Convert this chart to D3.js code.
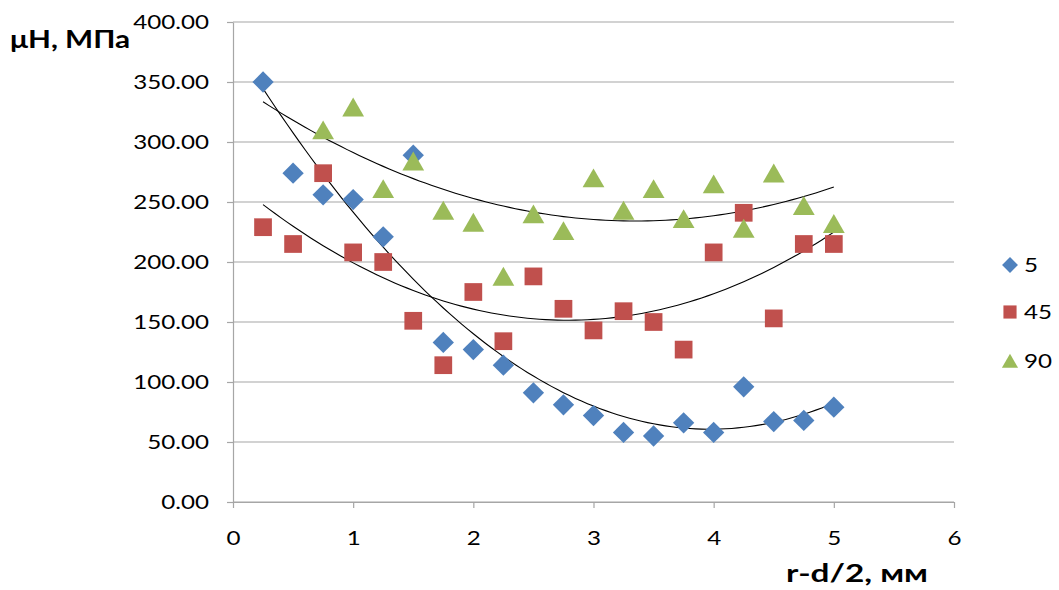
<!DOCTYPE html>
<html>
<head>
<meta charset="utf-8">
<script src="https://cdn.jsdelivr.net/npm/d3@7"></script>
<style>
  html, body { margin: 0; padding: 0; background: #fff; }
  svg { display: block; }
  text { font-family: Lato, "Open Sans", sans-serif; fill: #000; }
</style>
</head>
<body>
<svg id="chart" width="1059" height="590"></svg>
<script>
// Distance from the hole edge, mm
const xValues = [0.25, 0.5, 0.75, 1, 1.25, 1.5, 1.75, 2, 2.25, 2.5, 2.75, 3, 3.25, 3.5, 3.75, 4, 4.25, 4.5, 4.75, 5];
const xValues90 = [0.75, 1, 1.25, 1.5, 1.75, 2, 2.25, 2.5, 2.75, 3, 3.25, 3.5, 3.75, 4, 4.25, 4.5, 4.75, 5];

// Microhardness, MPa, for each series
const values5 = [350, 274, 256, 252, 221, 289, 133, 127, 114, 91, 81, 72, 58, 55, 66, 58, 96, 67, 68, 79];
const values45 = [229, 215, 274, 208, 200, 151, 114, 175, 134, 188, 161, 143, 159, 150, 127, 208, 241, 153, 215, 215];
const values90 = [310, 329, 261, 284, 243, 233, 188, 240, 226, 270, 243, 261, 236, 265, 228, 274, 247, 232];

const seriesNames = ["5", "45", "90"];
const xTicks = [0, 1, 2, 3, 4, 5, 6];
const yTicks = [0, 50, 100, 150, 200, 250, 300, 350, 400];

const series = [
  { name: seriesNames[0], xs: xValues, ys: values5, color: "#4F81BD", symbol: d3.symbolDiamond2, size: 290, dy: 0 },
  { name: seriesNames[1], xs: xValues, ys: values45, color: "#C0504D", symbol: d3.symbolSquare2, size: 400, dy: 0 },
  { name: seriesNames[2], xs: xValues90, ys: values90, color: "#9BBB59", symbol: d3.symbolTriangle2, size: 340, dy: 3 }
];

const svg = d3.select("#chart");
const SX = 1.24; // horizontal text stretch

const x = d3.scaleLinear().domain([0, 6]).range([233, 954]);
const y = d3.scaleLinear().domain([0, 400]).range([502, 22]);

// Horizontal grid
svg.append("g")
  .selectAll("line")
  .data(yTicks)
  .join("line")
  .attr("x1", x(0)).attr("x2", x(6))
  .attr("y1", d => y(d)).attr("y2", d => y(d))
  .attr("stroke", "#a6a6a6").attr("stroke-width", 1.2);

// Axes
const yAxis = svg.append("g")
  .attr("transform", `translate(${x(0)},0)`)
  .call(d3.axisLeft(y).tickValues(yTicks).tickFormat(d3.format(".2f")).tickSize(6).tickSizeOuter(0));
yAxis.select(".domain").attr("stroke", "#a6a6a6").attr("stroke-width", 1.2);
yAxis.selectAll(".tick line").attr("stroke", "#a6a6a6").attr("stroke-width", 1.2);
yAxis.selectAll(".tick text")
  .attr("font-family", "Lato").attr("font-size", 19.5).attr("fill", "#000")
  .attr("x", -24 / SX).attr("dy", "0.35em")
  .attr("transform", `scale(${SX},1)`);

const xAxis = svg.append("g")
  .attr("transform", `translate(0,${y(0)})`)
  .call(d3.axisBottom(x).tickValues(xTicks).tickFormat(d3.format("d")).tickSize(6).tickSizeOuter(0));
xAxis.select(".domain").attr("stroke", "#a6a6a6").attr("stroke-width", 1.2);
xAxis.selectAll(".tick line").attr("stroke", "#a6a6a6").attr("stroke-width", 1.2);
xAxis.selectAll(".tick text")
  .attr("font-family", "Lato").attr("font-size", 19.5).attr("fill", "#000")
  .attr("y", 43).attr("dy", 0)
  .attr("transform", `scale(${SX},1)`);

// Second-order polynomial least-squares fit
function quadFit(xs, ys) {
  let s = [0, 0, 0, 0, 0], t = [0, 0, 0];
  xs.forEach((xv, i) => {
    let p = 1;
    for (let k = 0; k < 5; k++) { s[k] += p; if (k < 3) t[k] += p * ys[i]; p *= xv; }
  });
  const A = [[s[0], s[1], s[2]], [s[1], s[2], s[3]], [s[2], s[3], s[4]]];
  const det = m => m[0][0]*(m[1][1]*m[2][2]-m[1][2]*m[2][1]) - m[0][1]*(m[1][0]*m[2][2]-m[1][2]*m[2][0]) + m[0][2]*(m[1][0]*m[2][1]-m[1][1]*m[2][0]);
  const D = det(A);
  const coef = [0, 1, 2].map(c => det(A.map((row, r) => row.map((v, j) => j === c ? t[r] : v))) / D);
  return xv => coef[0] + coef[1] * xv + coef[2] * xv * xv;
}

const line = d3.line().x(d => x(d[0])).y(d => y(d[1]));
series.forEach(s => {
  const f = quadFit(s.xs, s.ys);
  const pts = d3.range(0.25, 5.0001, 0.05).map(xv => [xv, f(xv)]);
  svg.append("path")
    .attr("d", line(pts))
    .attr("fill", "none").attr("stroke", "#000").attr("stroke-width", 1.1);
});

// Markers
series.forEach(s => {
  const sym = d3.symbol().type(s.symbol).size(s.size);
  svg.append("g")
    .selectAll("path")
    .data(s.xs.map((xv, i) => [xv, s.ys[i]]))
    .join("path")
    .attr("transform", d => `translate(${x(d[0])},${y(d[1]) + s.dy})`)
    .attr("d", sym())
    .attr("fill", s.color);
});

// Legend
const legendY = [265, 312, 361];
series.forEach((s, i) => {
  const sym = d3.symbol().type(s.symbol).size(s.size * 0.55);
  svg.append("path")
    .attr("transform", `translate(1010,${legendY[i] + s.dy * 0.7})`)
    .attr("d", sym())
    .attr("fill", s.color);
  svg.append("text")
    .attr("transform", `translate(1024,${legendY[i]}) scale(${SX},1)`)
    .attr("dy", "0.35em")
    .attr("font-size", 19.5)
    .text(s.name);
});

// Axis titles
svg.append("text")
  .attr("transform", `translate(10,48) scale(${SX},1)`)
  .attr("font-size", 24).attr("font-weight", "bold")
  .text("μH, МПа");

svg.append("text")
  .attr("transform", `translate(857,582) scale(1.36,1)`)
  .attr("text-anchor", "middle")
  .attr("font-size", 24.5).attr("font-weight", "bold")
  .text("r-d/2, мм");
</script>
</body>
</html>
